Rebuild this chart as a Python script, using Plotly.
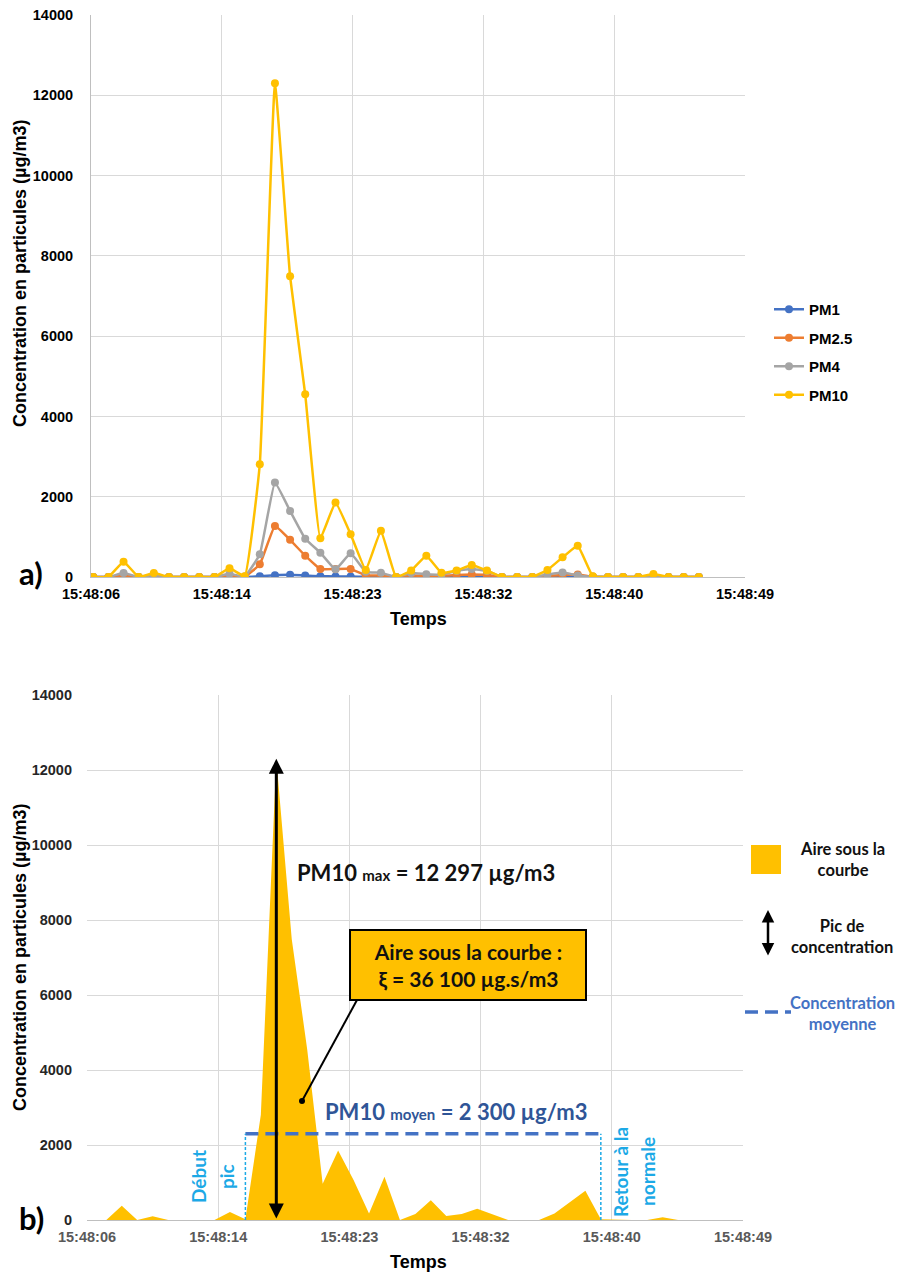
import plotly.graph_objects as go

""" Data """
seconds = list(range(41))
pm1 = [0, 0, 5, 0, 3, 0, 0, 0, 0, 8, 2, 20, 45, 55, 35, 20, 15, 10, 5, 5, 0,
       5, 5, 5, 5, 5, 5, 0, 0, 0, 5, 5, 5, 0, 0, 0, 0, 3, 0, 0, 0]
pm25 = [0, 0, 40, 0, 20, 0, 0, 0, 0, 40, 5, 315, 1270, 925, 530, 200, 200, 200, 40, 40, 0,
        40, 30, 30, 50, 60, 50, 0, 0, 0, 30, 50, 60, 5, 0, 0, 0, 15, 0, 0, 0]
pm4 = [0, 0, 100, 0, 50, 0, 0, 0, 0, 80, 10, 565, 2355, 1647, 955, 607, 190, 590, 130, 105, 0,
       100, 70, 60, 150, 200, 150, 0, 0, 0, 60, 110, 40, 10, 0, 0, 0, 30, 0, 0, 0]
pm10 = [0, 0, 380, 0, 100, 0, 0, 0, 0, 215, 20, 2810, 12297, 7490, 4550, 965, 1855, 1065, 175, 1155, 0,
        160, 530, 105, 160, 300, 160, 0, 0, 0, 175, 490, 780, 20, 0, 0, 0, 75, 0, 0, 0]
series_names = ["PM1", "PM2.5", "PM4", "PM10"]
series_colors = ["#4472C4", "#ED7D31", "#A5A5A5", "#FFC000"]
time_labels = ["15:48:06", "15:48:14", "15:48:23", "15:48:32", "15:48:40", "15:48:49"]

pm10_mean = 2300
peak_start, peak_end = 10, 33

W, H = 901, 1274
ARIAL = "Liberation Sans"
CALIBRI = "Lato"


def px(x, y):
    # page pixels -> paper coordinates
    return x / W, 1 - y / H


def label(text, xc, yc, size, color, family=CALIBRI, angle=0, **kw):
    x, y = px(xc, yc)
    d = dict(x=x, y=y, xref="paper", yref="paper", showarrow=False, textangle=angle,
             xanchor="center", yanchor="middle", text=text,
             font=dict(family=family, size=size, color=color))
    d.update(kw)
    return d


fig = go.Figure()

""" a) line chart of the four particle sizes """
for name, vals, col in zip(series_names, [pm1, pm25, pm4, pm10], series_colors):
    fig.add_trace(go.Scatter(
        x=seconds, y=vals, name=name, mode="lines+markers",
        line=dict(color=col, width=2.5, shape="spline", smoothing=0.3),
        marker=dict(color=col, size=8),
        legendgroup=name, xaxis="x", yaxis="y",
    ))

""" b) area under the PM10 curve """
fig.add_trace(go.Scatter(
    x=seconds, y=pm10, mode="lines", fill="tozeroy",
    fillcolor="#FFC000", line=dict(color="#FFC000", width=0),
    showlegend=False, xaxis="x2", yaxis="y2", hoverinfo="skip",
))

x0a, x1a = -0.15, 43.05
x0b, x1b = -0.25, 42.2
step_a = (x1a - x0a) / 5
step_b = (x1b - x0b) / 5

grid = "#D9D9D9"
tick_a = dict(family=ARIAL, size=14.5, color="black", weight="bold")
tick_b = dict(family=ARIAL, size=14.5, color="#595959", weight="bold")

fig.update_layout(
    width=W, height=H, margin=dict(l=0, r=0, t=0, b=0, autoexpand=False),
    paper_bgcolor="white", plot_bgcolor="white",
    xaxis=dict(domain=[91 / W, 745 / W], range=[x0a, x1a], automargin=False,
               tickvals=[x0a + k * step_a for k in range(6)], ticktext=time_labels,
               showgrid=True, gridcolor=grid, showline=True, linecolor="#BFBFBF",
               zeroline=False, tickfont=tick_a, ticks="", ticklabelstandoff=4),
    yaxis=dict(domain=[1 - 577 / H, 1 - 15 / H], range=[0, 14000], dtick=2000,
               tickformat="d", automargin=False,
               showgrid=True, gridcolor=grid, showline=True, linecolor="#BFBFBF",
               zeroline=False, tickfont=tick_a, ticks="", ticklabelstandoff=14),
    xaxis2=dict(domain=[87 / W, 743 / W], range=[x0b, x1b], automargin=False,
                tickvals=[x0b + k * step_b for k in range(6)], ticktext=time_labels,
                showgrid=True, gridcolor=grid, showline=True, linecolor="#BFBFBF",
                zeroline=False, tickfont=tick_b, ticks="", ticklabelstandoff=4,
                anchor="y2"),
    yaxis2=dict(domain=[1 - 1220 / H, 1 - 695 / H], range=[0, 14000], dtick=2000,
                tickformat="d", automargin=False,
                showgrid=True, gridcolor=grid, showline=False,
                zeroline=False, tickfont=dict(family=ARIAL, size=14.5, color="#262626", weight="bold"),
                ticks="", ticklabelstandoff=14, anchor="x2"),
    legend=dict(x=769 / W, y=1 - 293 / H, xanchor="left", yanchor="top",
                font=dict(family=ARIAL, size=15, color="black", weight="bold"),
                tracegroupgap=6, bgcolor="rgba(0,0,0,0)"),
    showlegend=True,
)

ann = []
shapes = []

# axis titles and panel labels
for yc in [274, 958]:
    ann.append(label("<b>Concentration en particules (µg/m3)</b>", 20, yc, 18, "black",
                     family=ARIAL, angle=-90))
for xc, yc in [(418, 619), (418, 1262)]:
    ann.append(label("<b>Temps</b>", xc, yc, 18, "black", family=ARIAL))
for txt, yc in [("a)", 573), ("b)", 1218)]:
    ann.append(label("<b>%s</b>" % txt, 31, yc, 31, "black"))

# white patch hiding gridlines at the right of panel b
x_a, y_a = px(711, 1030)
x_b, y_b = px(742, 1219)
shapes.append(dict(type="rect", xref="paper", yref="paper", x0=x_a, x1=x_b, y0=y_b, y1=y_a,
                   fillcolor="white", line=dict(width=0), layer="between"))

# peak arrow
i_peak = pm10.index(max(pm10))
ann.append(dict(x=seconds[i_peak], y=max(pm10), ax=seconds[i_peak], ay=0,
                xref="x2", yref="y2", axref="x2", ayref="y2", text="",
                showarrow=True, arrowhead=2, arrowside="end+start", arrowsize=1,
                arrowwidth=3, arrowcolor="black", standoff=0, startstandoff=0))

# mean concentration over the peak
shapes.append(dict(type="line", xref="x2", yref="y2", x0=seconds[peak_start], x1=seconds[peak_end],
                   y0=pm10_mean, y1=pm10_mean, line=dict(color="#4472C4", width=3.5, dash="13px,7px")))
for i in [peak_start, peak_end]:
    shapes.append(dict(type="line", xref="x2", yref="y2", x0=seconds[i], x1=seconds[i],
                       y0=0, y1=pm10_mean, line=dict(color="#1CA9E6", width=1.5, dash="3px,2px")))

cyan = "#1CA9E6"
for txt, xc, yc in [("Début", 198, 1177), ("pic", 226, 1177),
                    ("Retour à la", 620, 1172), ("normale", 647, 1172)]:
    ann.append(label("<b>%s</b>" % txt, xc, yc, 19, cyan, angle=-90))

ann.append(label("<b>PM10 <span style='font-size:15px'>max</span> = 12 297 µg/m3</b>",
                 426, 872, 22, "#111111"))
ann.append(label("<b>PM10 <span style='font-size:15px'>moyen</span> = 2 300 µg/m3</b>",
                 456, 1111, 22, "#2F5597"))

# pointer from the box to the area
xd, yd = px(302, 1101)
xe, ye = px(357, 1000)
shapes.append(dict(type="line", xref="paper", yref="paper", x0=xd, y0=yd, x1=xe, y1=ye,
                   line=dict(color="black", width=2)))
shapes.append(dict(type="circle", xref="paper", yref="paper",
                   x0=xd - 3 / W, x1=xd + 3 / W, y0=yd - 3 / H, y1=yd + 3 / H,
                   fillcolor="black", line=dict(width=0)))

ann.append(label("<b>Aire sous la courbe :<br>ξ = 36 100 µg.s/m3</b>", 468, 965, 21, "#111111",
                 bgcolor="#FFC000", bordercolor="black", borderwidth=2,
                 width=226, height=60, borderpad=4))

# manual legend of panel b
x_a, y_a = px(751, 845)
x_b, y_b = px(781, 874)
shapes.append(dict(type="rect", xref="paper", yref="paper", x0=x_a, x1=x_b, y0=y_b, y1=y_a,
                   fillcolor="#FFC000", line=dict(width=0)))
for txt, yc, col in [("Aire sous la<br>courbe", 859, "#111111"),
                     ("Pic de<br>concentration", 936, "#111111"),
                     ("Concentration<br>moyenne", 1013, "#4472C4")]:
    ann.append(label("<b>%s</b>" % txt, 842, yc, 16.5, col))
x, y = px(768, 910)
ann.append(dict(x=x, y=y, xref="paper", yref="paper", ax=0, ay=47, text="",
                showarrow=True, arrowhead=2, arrowside="end+start", arrowsize=1,
                arrowwidth=2.5, arrowcolor="black", standoff=0, startstandoff=0))
x_a, y_a = px(745, 1012)
x_b, _ = px(791, 1012)
shapes.append(dict(type="line", xref="paper", yref="paper", x0=x_a, x1=x_b, y0=y_a, y1=y_a,
                   line=dict(color="#4472C4", width=3.5, dash="13px,7px")))

fig.update_layout(annotations=ann, shapes=shapes)

fig.write_html("out.html", config={"displayModeBar": False},
               post_script="document.body.style.margin='0';")
